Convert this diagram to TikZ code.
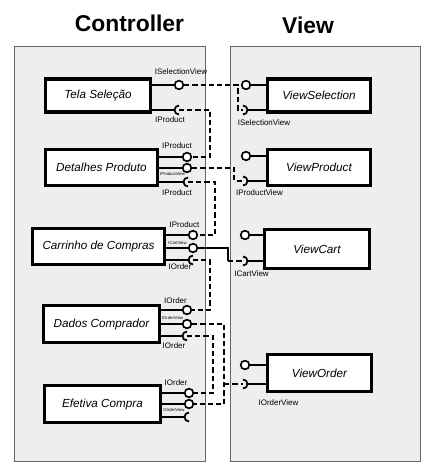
\documentclass[tikz,border=0pt]{standalone}
\usepackage{fontspec}
\setmainfont{Liberation Sans}
\usetikzlibrary{calc}
\definecolor{panelgray}{HTML}{EEEEEE}
\definecolor{panelline}{HTML}{666666}
\tikzset{
  comp/.style={draw, line width=3pt, fill=white, inner sep=0pt, font=\itshape\fontsize{10}{12}\selectfont},
  lolli/.style={circle, draw, fill=white, line width=1.4pt, minimum size=0.26cm, inner sep=0pt},
  stem/.style={line width=1.7pt},
  wire/.style={line width=1.4pt, dash pattern=on 4.5pt off 2.5pt},
  lbl/.style={font=\fontsize{6.8}{8}\selectfont, inner sep=0pt},
  tinylbl/.style={font=\fontsize{3.6}{4}\selectfont, inner sep=0pt},
  title/.style={font=\bfseries\fontsize{19.5}{22}\selectfont, inner sep=0pt, anchor=base},
  sockL/.pic={\draw[line width=1.5pt] (0,4.5) arc (90:270:4.5);},
  sockR/.pic={\draw[line width=1.5pt] (0,-4.5) arc (-90:90:4.5);},
}
\begin{document}
\begin{tikzpicture}[line cap=butt,line join=miter,x=0.03cm,y=-0.03cm]
        \useasboundingbox (0,0) rectangle (442,471);
        % panels
        \draw [fill=panelgray,draw=panelline,line width=0.8pt] (14,46) rectangle (205,461);
        \draw [fill=panelgray,draw=panelline,line width=0.8pt] (230,46) rectangle (420,461);
        \node[title] (tctrl) at (129.5,31.7) {Controller};
        \node[title] (tview) at (308,33.3) {View};
        % components
        \node[comp, minimum width=3.14cm, minimum height=1.0cm] (tela) at (98,95.5) {Tela Seleção};
        \node[comp, minimum width=3.35cm, minimum height=1.07cm] (det) at (101.5,167.5) {Detalhes Produto};
        \node[comp, minimum width=3.95cm, minimum height=1.07cm] (car) at (98.5,246.5) {Carrinho de Compras};
        \node[comp, minimum width=3.47cm, minimum height=1.1cm] (dad) at (101.5,324) {Dados Comprador};
        \node[comp, minimum width=3.47cm, minimum height=1.1cm] (efe) at (102.5,404) {Efetiva Compra};
        \node[comp, minimum width=3.08cm, minimum height=1.0cm] (vsel) at (319,95.5) {ViewSelection};
        \node[comp, minimum width=3.08cm, minimum height=1.07cm] (vprod) at (319,167.5) {ViewProduct};
        \node[comp, minimum width=3.14cm, minimum height=1.16cm] (vcart) at (317,249) {ViewCart};
        \node[comp, minimum width=3.11cm, minimum height=1.1cm] (vord) at (319.5,373) {ViewOrder};
        % controller ports
        \node[lolli] (tela-sv) at (179,85) {};
        \coordinate (tela-ip) at (179,110);
        \node[lolli] (det-ip) at (187,157) {};
        \node[lolli] (det-pv) at (187,168) {};
        \coordinate (det-ipr) at (188,182);
        \node[lolli] (car-ip) at (193,235) {};
        \node[lolli] (car-cv) at (193,248) {};
        \coordinate (car-io) at (193,260);
        \node[lolli] (dad-io) at (187,310) {};
        \node[lolli] (dad-ov) at (187,324) {};
        \coordinate (dad-ior) at (187,336);
        \node[lolli] (efe-io) at (189,393) {};
        \node[lolli] (efe-ov) at (189,404) {};
        \coordinate (efe-x) at (189,417);
        % view ports
        \node[lolli] (vsel-l) at (246,85) {};
        \coordinate (vsel-s) at (243,110);
        \node[lolli] (vprod-l) at (246,156) {};
        \coordinate (vprod-s) at (243,181);
        \node[lolli] (vcart-l) at (245,235) {};
        \coordinate (vcart-s) at (243,261);
        \node[lolli] (vord-l) at (245,365) {};
        \coordinate (vord-s) at (243,384);
        % stems
        \draw [stem] (tela.east |- tela-sv) -- (tela-sv.west);
        \draw [stem] (tela.east |- tela-ip) -- ($(tela-ip)+(-4.5,0)$);
        \draw [stem] (det.east |- det-ip) -- (det-ip.west);
        \draw [stem] (det.east |- det-pv) -- (det-pv.west);
        \draw [stem] (det.east |- det-ipr) -- ($(det-ipr)+(-4.5,0)$);
        \draw [stem] (car.east |- car-ip) -- (car-ip.west);
        \draw [stem] (car.east |- car-cv) -- (car-cv.west);
        \draw [stem] (car.east |- car-io) -- ($(car-io)+(-4.5,0)$);
        \draw [stem] (dad.east |- dad-io) -- (dad-io.west);
        \draw [stem] (dad.east |- dad-ov) -- (dad-ov.west);
        \draw [stem] (dad.east |- dad-ior) -- ($(dad-ior)+(-4.5,0)$);
        \draw [stem] (efe.east |- efe-io) -- (efe-io.west);
        \draw [stem] (efe.east |- efe-ov) -- (efe-ov.west);
        \draw [stem] (efe.east |- efe-x) -- ($(efe-x)+(-4.5,0)$);
        \draw [stem] (vsel-l.east) -- (vsel.west |- vsel-l);
        \draw [stem] ($(vsel-s)+(4.5,0)$) -- (vsel.west |- vsel-s);
        \draw [stem] (vprod-l.east) -- (vprod.west |- vprod-l);
        \draw [stem] ($(vprod-s)+(4.5,0)$) -- (vprod.west |- vprod-s);
        \draw [stem] (vcart-l.east) -- (vcart.west |- vcart-l);
        \draw [stem] ($(vcart-s)+(4.5,0)$) -- (vcart.west |- vcart-s);
        \draw [stem] (vord-l.east) -- (vord.west |- vord-l);
        \draw [stem] ($(vord-s)+(4.5,0)$) -- (vord.west |- vord-s);
        % sockets
        \pic at (tela-ip) {sockL};
        \pic at (det-ipr) {sockL};
        \pic at (car-io) {sockL};
        \pic at (dad-ior) {sockL};
        \pic at (efe-x) {sockL};
        \pic at (vsel-s) {sockR};
        \pic at (vprod-s) {sockR};
        \pic at (vcart-s) {sockR};
        \pic at (vord-s) {sockR};
        % wires
        \draw [wire] (tela-sv.east) -- ++(54,0) |- (vsel-s);
        \draw [wire] (tela-ip) -- ++(31,0) |- (det-ip.east);
        \draw [wire] (det-pv.east) -- ++(42,0) |- (vprod-s);
        \draw [wire] (det-ipr) -- ++(27,0) |- (car-ip.east);
        \draw [line width=1.4pt] (car-cv.east) -- ++(30,0) coordinate (cv-bend) -- (cv-bend |- vcart-s) coordinate (cv-low);
        \draw [wire] (cv-low) -- (vcart-s);
        \draw [wire] (car-io) -- ++(17,0) |- (dad-io.east);
        \draw [wire] (dad-ov.east) -- ++(32,0) coordinate (ov-bend) |- (efe-ov.east);
        \draw [wire] (ov-bend |- vord-s) -- (vord-s);
        \draw [wire] (dad-ior) -- ++(26,0) |- (efe-io.east);
        % labels
        \node[lbl] (l-tela-sv) at (181,71.5) {ISelectionView};
        \node[lbl] (l-tela-ip) at (170,120) {IProduct};
        \node[lbl] (l-det-ip) at (177,145.5) {IProduct};
        \node[tinylbl] (l-det-pv) at (172.5,173.5) {IProductView};
        \node[lbl] (l-det-ipr) at (177,193) {IProduct};
        \node[lbl] (l-car-ip) at (184.5,225) {IProduct};
        \node[tinylbl] (l-car-cv) at (177.5,243) {ICartView};
        \node[lbl] (l-car-io) at (180,267) {IOrder};
        \node[lbl] (l-dad-io) at (175.5,301) {IOrder};
        \node[tinylbl] (l-dad-ov) at (172.5,318) {IOrderView};
        \node[lbl] (l-dad-ior) at (174,346) {IOrder};
        \node[lbl] (l-efe-io) at (176,383) {IOrder};
        \node[tinylbl] (l-efe-ov) at (174,409.5) {IOrderView};
        \node[lbl] (l-vsel) at (264,123) {ISelectionView};
        \node[lbl] (l-vprod) at (259.5,193) {IProductView};
        \node[lbl] (l-vcart) at (251.5,274) {ICartView};
        \node[lbl] (l-vord) at (278.5,402.5) {IOrderView};
    \end{tikzpicture}
\end{document}
